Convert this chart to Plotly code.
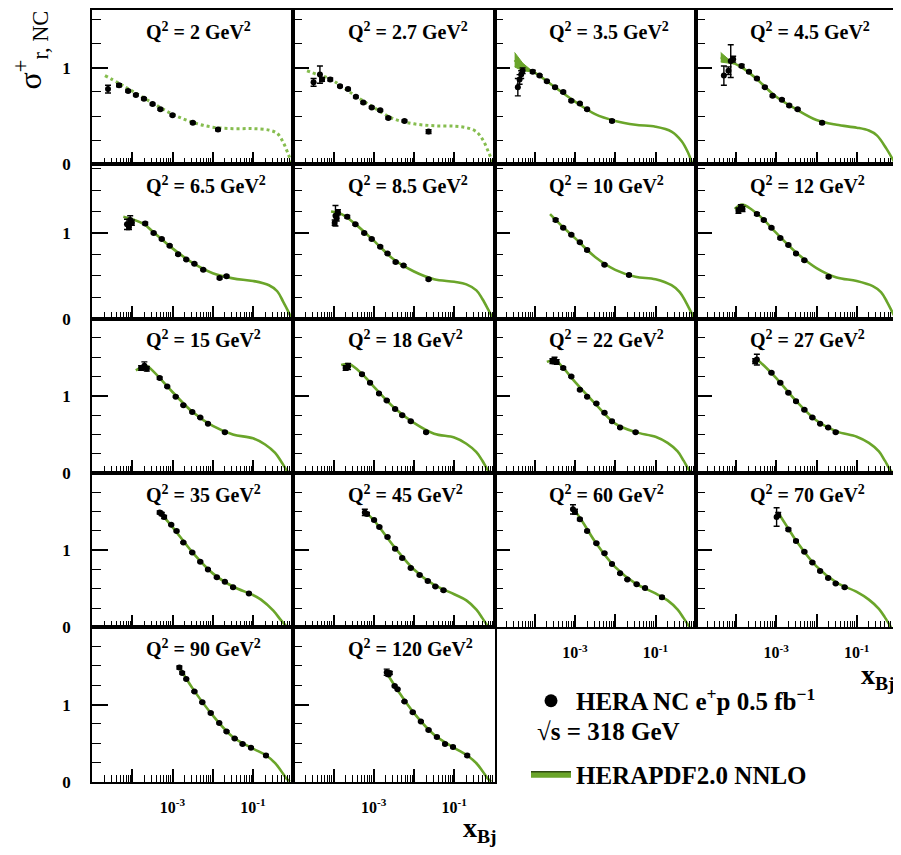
import plotly.graph_objects as go

# ---------------- data ----------------
Q2_LABELS = ["2", "2.7", "3.5", "4.5", "6.5", "8.5", "10", "12", "15", "18",
             "22", "27", "35", "45", "60", "70", "90", "120"]
ROW_YMAX = [1.6, 1.8, 2.0, 2.0, 2.0]
DOTTED_PANELS = ["2", "2.7"]
X_TICK_LABEL_VALUES = [1e-3, 1e-1]
X_TICK_LABEL_TEXT = ["10<sup>-3</sup>", "10<sup>-1</sup>"]
Y_TICK_VALUES = [0, 1]
Y_TICK_TEXT = ["0", "1"]

x_2 = [2.5e-5, 4.7e-5, 7.9e-5, 1.23e-4, 1.95e-4, 3.2e-4, 5.0e-4, 1.0e-3, 3.2e-3, 1.35e-2]
y_2 = [0.78, 0.82, 0.76, 0.72, 0.68, 0.625, 0.57, 0.51, 0.43, 0.36]
e_2 = [0.04, 0.015, 0.01, 0.01, 0.01, 0.01, 0.01, 0.01, 0.01, 0.012]
cx_2 = [2.1e-5, 4.7e-5, 1e-4, 3.2e-4, 1e-3, 3.2e-3, 1e-2, 3.2e-2, 0.1, 0.25, 0.4, 0.56, 0.76, 0.93]
cy_2 = [0.92, 0.84, 0.76, 0.635, 0.52, 0.435, 0.385, 0.37, 0.37, 0.355, 0.32, 0.23, 0.10, 0.01]

x_2p7 = [3.2e-5, 4.6e-5, 5.2e-5, 8.3e-5, 1.45e-4, 2.3e-4, 3.6e-4, 5.5e-4, 8.9e-4, 1.45e-3, 2.3e-3, 5.8e-3, 2.3e-2]
y_2p7 = [0.85, 0.93, 0.88, 0.88, 0.81, 0.78, 0.70, 0.64, 0.59, 0.56, 0.48, 0.45, 0.34]
e_2p7 = [0.04, 0.09, 0.02, 0.015, 0.01, 0.01, 0.01, 0.01, 0.01, 0.01, 0.01, 0.01, 0.02]
cx_2p7 = [2.2e-5, 4e-5, 7.9e-5, 3.2e-4, 1e-3, 3.2e-3, 1e-2, 3.2e-2, 0.1, 0.2, 0.35, 0.52, 0.72, 0.93]
cy_2p7 = [0.97, 0.93, 0.89, 0.72, 0.59, 0.47, 0.42, 0.40, 0.395, 0.38, 0.34, 0.25, 0.12, 0.01]

x_3p5 = [3.8e-5, 4.2e-5, 4.6e-5, 5.0e-5, 8.9e-5, 1.32e-4, 2.0e-4, 3.2e-4, 5.1e-4, 8.1e-4, 1.32e-3, 2.0e-3, 8.3e-3]
y_3p5 = [0.80, 0.88, 0.93, 0.97, 0.96, 0.92, 0.86, 0.80, 0.75, 0.66, 0.63, 0.57, 0.45]
e_3p5 = [0.09, 0.05, 0.04, 0.03, 0.015, 0.01, 0.01, 0.01, 0.01, 0.01, 0.01, 0.01, 0.012]
cx_3p5 = [3.16e-5, 5.0e-5, 1e-4, 3.16e-4, 1e-3, 3.16e-3, 1e-2, 3.16e-2, 0.1, 0.25, 0.447, 0.63, 0.81]
cy_3p5 = [1.08, 1.01, 0.95, 0.80, 0.65, 0.52, 0.45, 0.41, 0.39, 0.34, 0.24, 0.13, 0.01]
wx_3p5 = [3.16e-5, 5.0e-5, 7.9e-5]
wu_3p5 = [1.16, 1.05, 0.98]
wl_3p5 = [1.01, 0.97, 0.96]

x_4p5 = [5.0e-5, 6.5e-5, 7.4e-5, 8.5e-5, 1.38e-4, 2.1e-4, 3.3e-4, 5.2e-4, 8.1e-4, 1.38e-3, 2.1e-3, 3.4e-3, 1.38e-2]
y_4p5 = [0.92, 0.97, 1.07, 1.09, 1.02, 0.96, 0.89, 0.80, 0.71, 0.67, 0.61, 0.57, 0.43]
e_4p5 = [0.10, 0.04, 0.17, 0.03, 0.015, 0.01, 0.01, 0.01, 0.01, 0.01, 0.01, 0.01, 0.012]
cx_4p5 = [4.17e-5, 7.9e-5, 1.58e-4, 3.16e-4, 1e-3, 3.16e-3, 1e-2, 3.16e-2, 0.1, 0.2, 0.316, 0.55, 0.89]
cy_4p5 = [1.11, 1.06, 0.99, 0.89, 0.70, 0.57, 0.46, 0.41, 0.38, 0.35, 0.30, 0.16, 0.01]
wx_4p5 = [4.17e-5, 6.3e-5, 8.9e-5]
wu_4p5 = [1.16, 1.10, 1.05]
wl_4p5 = [1.06, 1.05, 1.04]

x_6p5 = [7.4e-5, 8.3e-5, 8.9e-5, 9.8e-5, 2.1e-4, 3.4e-4, 5.4e-4, 8.5e-4, 1.38e-3, 2.2e-3, 3.5e-3, 5.8e-3, 1.48e-2, 2.2e-2]
y_6p5 = [1.10, 1.07, 1.15, 1.12, 1.11, 1.00, 0.93, 0.85, 0.75, 0.69, 0.64, 0.57, 0.475, 0.495]
e_6p5 = [0.06, 0.03, 0.05, 0.03, 0.015, 0.01, 0.01, 0.01, 0.01, 0.01, 0.01, 0.01, 0.012, 0.012]
cx_6p5 = [6.0e-5, 1e-4, 2.0e-4, 3.16e-4, 1e-3, 3.16e-3, 1e-2, 3.16e-2, 0.1, 0.25, 0.4, 0.56, 0.76, 0.89]
cy_6p5 = [1.19, 1.16, 1.10, 1.02, 0.82, 0.65, 0.53, 0.47, 0.44, 0.39, 0.32, 0.20, 0.08, 0.01]

x_8p5 = [1.07e-4, 1.12e-4, 1.2e-4, 1.29e-4, 2.2e-4, 3.5e-4, 5.8e-4, 8.9e-4, 1.45e-3, 2.2e-3, 3.5e-3, 5.5e-3, 2.3e-2]
y_8p5 = [1.12, 1.20, 1.17, 1.24, 1.19, 1.10, 1.00, 0.93, 0.84, 0.76, 0.66, 0.62, 0.46]
e_8p5 = [0.03, 0.12, 0.03, 0.03, 0.015, 0.01, 0.01, 0.01, 0.01, 0.01, 0.01, 0.01, 0.012]
cx_8p5 = [8.7e-5, 1.58e-4, 3.16e-4, 1e-3, 3.16e-3, 1e-2, 3.16e-2, 0.1, 0.2, 0.355, 0.5, 0.71, 0.89]
cy_8p5 = [1.25, 1.22, 1.12, 0.91, 0.69, 0.55, 0.46, 0.43, 0.40, 0.33, 0.23, 0.10, 0.01]

x_10 = [3.3e-4, 5.1e-4, 8.1e-4, 1.32e-3, 2.0e-3, 5.4e-3, 2.2e-2]
y_10 = [1.15, 1.06, 0.98, 0.89, 0.80, 0.63, 0.51]
e_10 = [0.015, 0.01, 0.01, 0.01, 0.01, 0.01, 0.012]
cx_10 = [2.4e-4, 5.0e-4, 1e-3, 3.16e-3, 1e-2, 3.16e-2, 0.1, 0.25, 0.4, 0.56, 0.76, 0.91]
cy_10 = [1.22, 1.07, 0.94, 0.72, 0.57, 0.49, 0.46, 0.39, 0.31, 0.20, 0.08, 0.01]

x_12 = [1.15e-4, 1.32e-4, 1.45e-4, 3.3e-4, 4.9e-4, 7.6e-4, 1.26e-3, 2.0e-3, 3.1e-3, 5.0e-3, 2.0e-2]
y_12 = [1.26, 1.30, 1.28, 1.22, 1.15, 1.06, 0.94, 0.86, 0.76, 0.68, 0.49]
e_12 = [0.03, 0.03, 0.03, 0.015, 0.01, 0.01, 0.01, 0.01, 0.01, 0.01, 0.012]
cx_12 = [9.3e-5, 1.41e-4, 2.5e-4, 5.0e-4, 1e-3, 3.16e-3, 1e-2, 3.16e-2, 0.1, 0.25, 0.4, 0.56, 0.76, 0.91]
cy_12 = [1.28, 1.33, 1.27, 1.15, 1.00, 0.77, 0.59, 0.48, 0.44, 0.38, 0.31, 0.20, 0.08, 0.01]

x_15 = [1.66e-4, 2.0e-4, 2.3e-4, 4.8e-4, 7.4e-4, 1.2e-3, 1.86e-3, 3.1e-3, 4.9e-3, 7.6e-3, 2.0e-2]
y_15 = [1.36, 1.39, 1.35, 1.23, 1.12, 0.99, 0.88, 0.79, 0.72, 0.64, 0.53]
e_15 = [0.03, 0.05, 0.03, 0.015, 0.01, 0.01, 0.01, 0.01, 0.01, 0.01, 0.012]
cx_15 = [1.23e-4, 2.24e-4, 3.16e-4, 1e-3, 3.16e-3, 1e-2, 3.16e-2, 0.1, 0.2, 0.355, 0.5, 0.66, 0.79]
cy_15 = [1.33, 1.39, 1.33, 1.05, 0.79, 0.61, 0.50, 0.45, 0.37, 0.26, 0.15, 0.05, 0.0]

x_18 = [2.0e-4, 2.3e-4, 5.1e-4, 8.1e-4, 1.35e-3, 2.1e-3, 3.4e-3, 5.1e-3, 8.3e-3, 2.0e-2]
y_18 = [1.36, 1.38, 1.28, 1.17, 1.03, 0.94, 0.83, 0.75, 0.67, 0.53]
e_18 = [0.03, 0.04, 0.015, 0.01, 0.01, 0.01, 0.01, 0.01, 0.01, 0.012]
cx_18 = [1.55e-4, 2.5e-4, 5.0e-4, 1e-3, 3.16e-3, 1e-2, 3.16e-2, 0.1, 0.2, 0.355, 0.5, 0.66, 0.79]
cy_18 = [1.40, 1.41, 1.29, 1.12, 0.85, 0.65, 0.51, 0.46, 0.38, 0.27, 0.16, 0.05, 0.0]

x_22 = [2.75e-4, 3.1e-4, 3.5e-4, 5.1e-4, 8.1e-4, 1.32e-3, 2.0e-3, 3.4e-3, 5.4e-3, 8.3e-3, 1.32e-2, 3.2e-2]
y_22 = [1.45, 1.46, 1.44, 1.36, 1.25, 1.08, 0.99, 0.90, 0.78, 0.67, 0.59, 0.53]
e_22 = [0.03, 0.04, 0.03, 0.015, 0.01, 0.01, 0.01, 0.01, 0.01, 0.01, 0.01, 0.012]
cx_22 = [2.0e-4, 3.16e-4, 5.0e-4, 1e-3, 3.16e-3, 1e-2, 3.16e-2, 0.1, 0.2, 0.355, 0.5, 0.66, 0.79]
cy_22 = [1.44, 1.46, 1.37, 1.18, 0.90, 0.64, 0.53, 0.47, 0.39, 0.28, 0.16, 0.05, 0.0]

x_27 = [3.0e-4, 3.3e-4, 7.6e-4, 1.26e-3, 2.0e-3, 3.1e-3, 5.0e-3, 7.9e-3, 1.23e-2, 1.95e-2, 3.0e-2]
y_27 = [1.45, 1.47, 1.30, 1.17, 1.04, 0.93, 0.82, 0.72, 0.64, 0.59, 0.53]
e_27 = [0.03, 0.07, 0.01, 0.01, 0.01, 0.01, 0.01, 0.01, 0.01, 0.01, 0.012]
cx_27 = [3.0e-4, 5.0e-4, 1e-3, 3.16e-3, 1e-2, 3.16e-2, 0.1, 0.2, 0.355, 0.5, 0.66, 0.79]
cy_27 = [1.49, 1.39, 1.23, 0.93, 0.68, 0.54, 0.47, 0.39, 0.28, 0.16, 0.05, 0.0]

x_35 = [4.8e-4, 5.4e-4, 6.2e-4, 9.3e-4, 1.26e-3, 1.86e-3, 3.1e-3, 4.9e-3, 7.6e-3, 1.26e-2, 2.0e-2, 3.2e-2, 7.9e-2]
y_35 = [1.49, 1.47, 1.43, 1.33, 1.25, 1.10, 0.97, 0.85, 0.75, 0.65, 0.59, 0.52, 0.44]
e_35 = [0.02, 0.02, 0.02, 0.01, 0.01, 0.01, 0.01, 0.01, 0.01, 0.01, 0.01, 0.01, 0.012]
cx_35 = [4.7e-4, 1e-3, 3.16e-3, 1e-2, 3.16e-2, 0.1, 0.158, 0.316, 0.5, 0.71]
cy_35 = [1.50, 1.30, 0.97, 0.70, 0.53, 0.42, 0.36, 0.22, 0.09, 0.0]

x_45 = [6.0e-4, 6.8e-4, 1.02e-3, 1.38e-3, 2.2e-3, 3.4e-3, 5.1e-3, 8.3e-3, 1.38e-2, 2.2e-2, 3.4e-2, 5.4e-2]
y_45 = [1.49, 1.47, 1.39, 1.30, 1.17, 1.02, 0.90, 0.77, 0.68, 0.60, 0.53, 0.48]
e_45 = [0.04, 0.02, 0.01, 0.01, 0.01, 0.01, 0.01, 0.01, 0.01, 0.01, 0.01, 0.012]
cx_45 = [6.0e-4, 1e-3, 3.16e-3, 1e-2, 3.16e-2, 0.1, 0.2, 0.355, 0.5, 0.71]
cy_45 = [1.50, 1.39, 1.05, 0.75, 0.55, 0.43, 0.35, 0.23, 0.12, 0.0]

x_60 = [8.9e-4, 1.0e-3, 1.32e-3, 2.0e-3, 3.4e-3, 5.4e-3, 8.3e-3, 1.32e-2, 2.0e-2, 3.4e-2, 5.5e-2, 0.145]
y_60 = [1.53, 1.50, 1.40, 1.25, 1.09, 0.96, 0.82, 0.70, 0.62, 0.56, 0.51, 0.39]
e_60 = [0.06, 0.03, 0.015, 0.01, 0.01, 0.01, 0.01, 0.01, 0.01, 0.01, 0.01, 0.015]
cx_60 = [8.9e-4, 1.58e-3, 3.16e-3, 1e-2, 3.16e-2, 0.1, 0.2, 0.355, 0.5, 0.71]
cy_60 = [1.55, 1.36, 1.11, 0.78, 0.57, 0.44, 0.35, 0.23, 0.12, 0.0]

x_70 = [1.02e-3, 1.12e-3, 2.0e-3, 3.1e-3, 5.0e-3, 7.9e-3, 1.23e-2, 1.95e-2, 3.0e-2, 5.0e-2]
y_70 = [1.43, 1.46, 1.27, 1.12, 0.98, 0.84, 0.73, 0.64, 0.57, 0.52]
e_70 = [0.12, 0.03, 0.015, 0.01, 0.01, 0.01, 0.01, 0.01, 0.01, 0.012]
cx_70 = [1.17e-3, 2.0e-3, 3.16e-3, 1e-2, 3.16e-2, 0.1, 0.2, 0.355, 0.5, 0.71]
cy_70 = [1.47, 1.28, 1.12, 0.79, 0.58, 0.46, 0.36, 0.24, 0.13, 0.0]

x_90 = [1.48e-3, 1.74e-3, 2.2e-3, 3.5e-3, 5.5e-3, 8.9e-3, 1.45e-2, 2.2e-2, 3.5e-2, 5.5e-2, 8.9e-2, 0.21]
y_90 = [1.48, 1.41, 1.33, 1.17, 1.03, 0.89, 0.76, 0.65, 0.56, 0.49, 0.44, 0.34]
e_90 = [0.02, 0.015, 0.01, 0.01, 0.01, 0.01, 0.01, 0.01, 0.01, 0.01, 0.01, 0.015]
cx_90 = [1.41e-3, 3.16e-3, 1e-2, 3.16e-2, 0.1, 0.214, 0.355, 0.5, 0.71, 0.83]
cy_90 = [1.50, 1.21, 0.86, 0.58, 0.43, 0.34, 0.24, 0.14, 0.03, 0.0]

x_120 = [2.1e-3, 2.3e-3, 2.5e-3, 3.3e-3, 3.9e-3, 5.8e-3, 9.3e-3, 1.48e-2, 2.3e-2, 3.7e-2, 5.9e-2, 9.3e-2, 0.21]
y_120 = [1.42, 1.39, 1.41, 1.24, 1.20, 1.04, 0.90, 0.78, 0.67, 0.58, 0.49, 0.45, 0.34]
e_120 = [0.04, 0.02, 0.02, 0.01, 0.01, 0.01, 0.01, 0.01, 0.01, 0.01, 0.01, 0.01, 0.015]
cx_120 = [2.4e-3, 4.0e-3, 1e-2, 3.16e-2, 0.1, 0.21, 0.355, 0.5, 0.71, 0.83]
cy_120 = [1.36, 1.18, 0.89, 0.61, 0.44, 0.34, 0.24, 0.14, 0.03, 0.0]

PANELS = [
    (x_2, y_2, e_2, cx_2, cy_2), (x_2p7, y_2p7, e_2p7, cx_2p7, cy_2p7),
    (x_3p5, y_3p5, e_3p5, cx_3p5, cy_3p5), (x_4p5, y_4p5, e_4p5, cx_4p5, cy_4p5),
    (x_6p5, y_6p5, e_6p5, cx_6p5, cy_6p5), (x_8p5, y_8p5, e_8p5, cx_8p5, cy_8p5),
    (x_10, y_10, e_10, cx_10, cy_10), (x_12, y_12, e_12, cx_12, cy_12),
    (x_15, y_15, e_15, cx_15, cy_15), (x_18, y_18, e_18, cx_18, cy_18),
    (x_22, y_22, e_22, cx_22, cy_22), (x_27, y_27, e_27, cx_27, cy_27),
    (x_35, y_35, e_35, cx_35, cy_35), (x_45, y_45, e_45, cx_45, cy_45),
    (x_60, y_60, e_60, cx_60, cy_60), (x_70, y_70, e_70, cx_70, cy_70),
    (x_90, y_90, e_90, cx_90, cy_90), (x_120, y_120, e_120, cx_120, cy_120),
]
WEDGES = {"3.5": (wx_3p5, wu_3p5, wl_3p5), "4.5": (wx_4p5, wu_4p5, wl_4p5)}

X_LABELLED_PANELS = [14, 15, 16, 17]

# ---------------- layout geometry (page pixels; page body has an 8px margin) ----------------
OFF = 8
W, H = 901 - OFF, 855 - OFF
LEFT, TOP = 92.0, 10.0
PW, PH = 201.25, 156.2
GREEN = "#6aa52a"
GREEN_DOT = "#86bd4f"
SERIF = "Liberation Serif, Times New Roman, Times, serif"


def fx(p):
    return (p - OFF) / W


def fy(p):
    return 1 - (p - OFF) / H


fig = go.Figure()
layout = {}
annotations = []

decades = [1e-5, 1e-4, 1e-3, 1e-2, 1e-1, 1]
unlabelled_decades = [v for v in decades if v not in X_TICK_LABEL_VALUES]
minor_x = [m * 10.0 ** e for e in range(-5, 0) for m in range(2, 10)]
tick_style = dict(ticks="inside", tickcolor="black")
extra_axis_id = len(Q2_LABELS) + 1

for k, (lab, (px, py, pe, cx, cy)) in enumerate(zip(Q2_LABELS, PANELS)):
    r, c = divmod(k, 4)
    s = "" if k == 0 else str(k + 1)
    xa, ya = "x" + s, "y" + s
    yt = TOP + r * PH
    yb = yt + PH
    ymax = ROW_YMAX[r]
    xdom = [fx(LEFT + c * PW), fx(LEFT + (c + 1) * PW)]

    if lab in WEDGES:
        wx, wu, wl = WEDGES[lab]
        fig.add_trace(go.Scatter(x=wx + wx[::-1], y=wu + wl[::-1], fill="toself",
                                 fillcolor=GREEN, line=dict(color=GREEN, width=1),
                                 mode="lines", xaxis=xa, yaxis=ya,
                                 showlegend=False, hoverinfo="skip"))
    if lab in DOTTED_PANELS:
        line = dict(color=GREEN_DOT, width=3, dash="dot", shape="spline")
    else:
        line = dict(color=GREEN, width=2.6, shape="spline")
    fig.add_trace(go.Scatter(x=cx, y=cy, mode="lines", line=line,
                             xaxis=xa, yaxis=ya, showlegend=False))
    fig.add_trace(go.Scatter(x=px, y=py, mode="markers",
                             marker=dict(color="black", size=6),
                             error_y=dict(type="data", array=pe, color="black",
                                          thickness=1.4, width=3),
                             xaxis=xa, yaxis=ya, showlegend=False))

    xaxis = dict(
        type="log", range=[-5, 0], domain=xdom, anchor=ya,
        showline=True, mirror=True, linecolor="black", linewidth=1.5,
        showgrid=False, zeroline=False, tickmode="array",
        ticklen=13, tickwidth=1.5, **tick_style,
        minor=dict(tickmode="array", tickvals=minor_x, ticklen=7, tickwidth=1.1,
                   **tick_style),
    )
    if k in X_LABELLED_PANELS:
        xaxis.update(tickvals=X_TICK_LABEL_VALUES, ticktext=X_TICK_LABEL_TEXT,
                     showticklabels=True, ticklabelstandoff=10,
                     tickfont=dict(family=SERIF, size=16, color="black", weight="bold"))
        # companion axis carrying the long decade ticks that have no label
        ex = "x" + str(extra_axis_id)
        layout["xaxis" + str(extra_axis_id)] = dict(
            type="log", range=[-5, 0], domain=xdom, anchor=ya, overlaying=xa,
            showline=False, showgrid=False, zeroline=False, tickmode="array",
            tickvals=unlabelled_decades, showticklabels=False,
            ticklen=13, tickwidth=1.5, **tick_style)
        fig.add_trace(go.Scatter(x=[], y=[], xaxis=ex, yaxis=ya, showlegend=False,
                                 hoverinfo="skip"))
        extra_axis_id += 1
    else:
        xaxis.update(tickvals=decades, showticklabels=False)
    layout["xaxis" + s] = xaxis

    yaxis = dict(
        range=[0, ymax], domain=[fy(yb), fy(yt)], anchor=xa,
        showline=True, mirror=True, linecolor="black", linewidth=1.5,
        showgrid=False, zeroline=False,
        tickmode="array", tickvals=Y_TICK_VALUES,
        ticklen=16, tickwidth=1.5, **tick_style,
        minor=dict(tickmode="array", tickvals=[0.25, 0.5, 0.75, 1.25, 1.5, 1.75],
                   ticklen=9, tickwidth=1.1, **tick_style),
    )
    if c == 0:
        yaxis.update(ticktext=Y_TICK_TEXT, showticklabels=True, ticklabelstandoff=16,
                     tickfont=dict(family=SERIF, size=17, color="black", weight="bold"))
    else:
        yaxis.update(showticklabels=False)
    layout["yaxis" + s] = yaxis

    annotations.append(dict(
        text="Q<sup>2</sup> = " + lab + " GeV<sup>2</sup>",
        xref=xa + " domain", yref=ya + " domain",
        x=0.26, y=1 - 21 / PH, xanchor="left", yanchor="middle",
        showarrow=False,
        font=dict(family=SERIF, size=20, color="black", weight="bold")))

# legend-only entries
fig.add_trace(go.Scatter(x=[None], y=[None], mode="markers",
                         marker=dict(color="black", size=13),
                         name="HERA NC e<sup>+</sup>p 0.5 fb<sup>\u22121</sup>",
                         legend="legend", showlegend=True))
fig.add_trace(go.Scatter(x=[None], y=[None], mode="lines", fill="toself",
                         fillcolor=GREEN, line=dict(color="#2f4a12", width=1.5),
                         name="HERAPDF2.0 NNLO", legend="legend2", showlegend=True))

annotations += [
    dict(text="\u221as = 318 GeV", xref="paper", yref="paper",
         x=fx(535), y=fy(740), xanchor="left", yanchor="middle", showarrow=False,
         font=dict(family=SERIF, size=25, color="black", weight="bold")),
    dict(text="\u03c3<sup>+</sup><sub>r, NC</sub>", xref="paper", yref="paper",
         x=fx(30), y=fy(51), xanchor="center", yanchor="middle", textangle=-90,
         showarrow=False, font=dict(family=SERIF, size=32, color="black")),
    dict(text="x<sub>Bj</sub>", xref="paper", yref="paper",
         x=fx(480), y=fy(839), xanchor="center", yanchor="middle", showarrow=False,
         borderpad=0,
         font=dict(family=SERIF, size=28, color="black", weight="bold")),
    dict(text="x<sub>Bj</sub>", xref="paper", yref="paper",
         x=fx(878), y=fy(684), xanchor="center", yanchor="middle", showarrow=False,
         borderpad=0,
         font=dict(family=SERIF, size=28, color="black", weight="bold")),
]

legend_font = dict(family=SERIF, size=25, color="black", weight="bold")
fig.update_layout(
    width=W, height=H, margin=dict(l=0, r=0, t=0, b=0),
    paper_bgcolor="white", plot_bgcolor="white",
    annotations=annotations,
    legend=dict(x=fx(526), y=fy(686), xanchor="left", yanchor="top", itemwidth=40,
                bgcolor="rgba(0,0,0,0)", font=legend_font),
    legend2=dict(x=fx(526), y=fy(760), xanchor="left", yanchor="top", itemwidth=40,
                 bgcolor="rgba(0,0,0,0)", font=legend_font),
    **layout,
)

fig.write_html("out.html")
